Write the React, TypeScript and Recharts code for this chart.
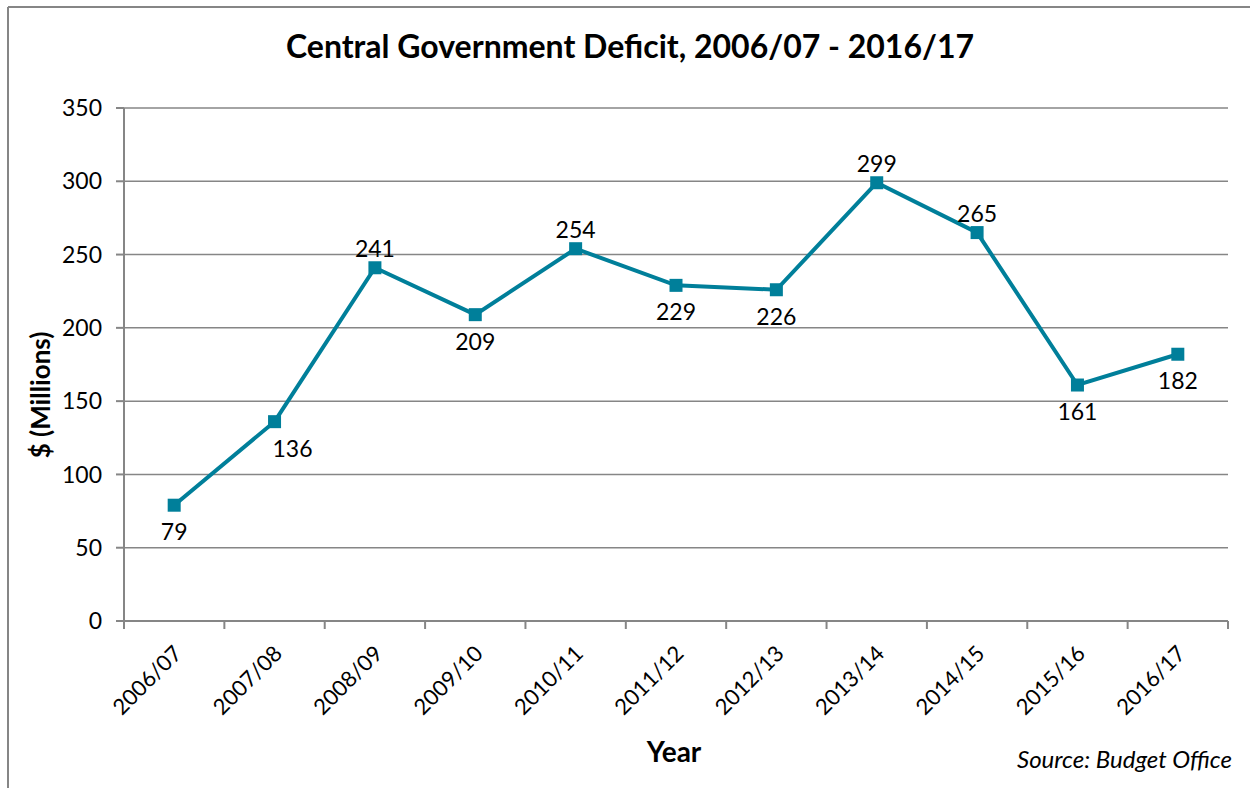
import { LineChart, Line, XAxis, YAxis, CartesianGrid, LabelList } from 'recharts'

const years = ['2006/07', '2007/08', '2008/09', '2009/10', '2010/11', '2011/12', '2012/13', '2013/14', '2014/15', '2015/16', '2016/17']
const deficit = [79, 136, 241, 209, 254, 229, 226, 299, 265, 161, 182]
const yTicks = [0, 50, 100, 150, 200, 250, 300, 350]
// points whose value label sits above the marker
const labelsAbove = ['2008/09', '2010/11', '2013/14', '2014/15']
// the 2007/08 label was dragged a little to the right in the original
const labelShiftRight = ['2007/08']

const data = years.map((year, i) => ({ year, deficit: deficit[i] }))

const FONT = 'Lato, "Open Sans", sans-serif'
const GRID = '#868686'
const TEAL = '#007F9A'
const TICK = 8

// rotated year label, plus the tick marks Excel puts on category boundaries
function YearTick({ x, y, payload, width, visibleTicksCount, index }: any) {
  const half = payload.offset || width / visibleTicksCount / 2
  const axisY = y - TICK
  const last = index === visibleTicksCount - 1
  const tx = x + 9
  const ty = axisY + 34
  return (
    <g>
      <line x1={x - half} y1={axisY} x2={x - half} y2={axisY + TICK} stroke={GRID} strokeWidth={2} />
      {last && <line x1={x + half} y1={axisY} x2={x + half} y2={axisY + TICK} stroke={GRID} strokeWidth={2} />}
      <text
        x={tx}
        y={ty}
        transform={`rotate(-45, ${tx}, ${ty})`}
        textAnchor="end"
        fontFamily={FONT}
        fontSize={22}
        fill="#000"
      >
        {payload.value}
      </text>
    </g>
  )
}

function SquareDot({ cx, cy, index }: any) {
  return <rect key={`dot-${index}`} x={cx - 6.5} y={cy - 6.5} width={13} height={13} fill={TEAL} />
}

function ValueLabel({ x, y, value, index }: any) {
  const above = labelsAbove.includes(years[index])
  const shift = labelShiftRight.includes(years[index]) ? 18 : 0
  return (
    <text
      x={x + shift}
      y={above ? y - 11 : y + 35}
      textAnchor="middle"
      fontFamily={FONT}
      fontSize={23}
      fill="#000"
    >
      {value}
    </text>
  )
}

export default function App() {
  return (
    <div style={{ position: 'absolute', left: 0, top: 0, width: 1250, height: 788, background: '#fff' }}>
      <LineChart
        width={1250}
        height={788}
        data={data}
        margin={{ top: 108, right: 22, left: 64, bottom: 47 }}
      >
        <CartesianGrid vertical={false} stroke={GRID} strokeWidth={1.5} />
        <XAxis
          dataKey="year"
          scale="band"
          interval={0}
          height={120}
          tickSize={TICK}
          tickMargin={0}
          tickLine={false}
          axisLine={{ stroke: GRID, strokeWidth: 2 }}
          tick={<YearTick />}
        />
        <YAxis
          domain={[0, 350]}
          ticks={yTicks}
          width={60}
          tickSize={TICK}
          tickMargin={14}
          tickLine={{ stroke: GRID, strokeWidth: 2 }}
          axisLine={{ stroke: GRID, strokeWidth: 2 }}
          tick={{ fill: '#000', fontSize: 23, fontFamily: FONT }}
        />
        <Line
          type="linear"
          dataKey="deficit"
          stroke={TEAL}
          strokeWidth={4}
          dot={<SquareDot />}
          activeDot={false}
          isAnimationActive={false}
        >
          <LabelList dataKey="deficit" content={<ValueLabel />} />
        </Line>
      </LineChart>
      <svg
        width={1250}
        height={788}
        style={{ position: 'absolute', left: 0, top: 0, pointerEvents: 'none' }}
      >
        <line x1={8} y1={7} x2={1250} y2={7} stroke={GRID} strokeWidth={2} />
        <line x1={8} y1={7} x2={8} y2={788} stroke={GRID} strokeWidth={2} />
        <text x={630} y={58} textAnchor="middle" fontFamily={FONT} fontWeight="bold" fontSize={32} fill="#000">
          Central Government Deficit, 2006/07 - 2016/17
        </text>
        <text
          x={50}
          y={395}
          transform="rotate(-90, 50, 395)"
          textAnchor="middle"
          fontFamily={FONT}
          fontWeight="bold"
          fontSize={26}
          fill="#000"
        >
          $ (Millions)
        </text>
        <text x={674} y={762} textAnchor="middle" fontFamily={FONT} fontWeight="bold" fontSize={28} fill="#000">
          Year
        </text>
        <text x={1232} y={768} textAnchor="end" fontFamily={FONT} fontStyle="italic" fontSize={24} fill="#000">
          Source: Budget Office
        </text>
      </svg>
    </div>
  )
}
